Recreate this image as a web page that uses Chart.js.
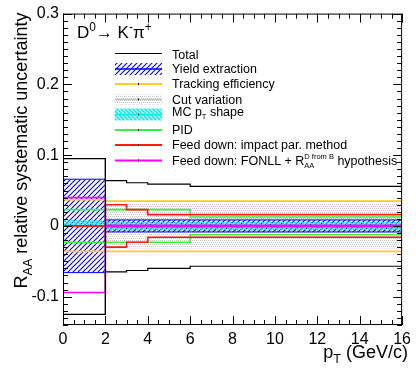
<!DOCTYPE html>
<html><head><meta charset="utf-8">
<script src="https://cdn.jsdelivr.net/npm/chart.js@4/dist/chart.umd.min.js"></script>
<style>html,body{margin:0;padding:0;background:#fff}#wrap{width:416px;height:372px}</style>
</head><body><div id="wrap"><canvas id="c" width="416" height="372"></canvas></div>
<script>
// ---- data ----
const binEdges   = [0, 2, 3, 4, 6, 16];
const totalUp    = [0.095, 0.064, 0.061, 0.059, 0.056];
const totalLow   = [-0.125, -0.065, -0.063, -0.060, -0.057];
const yieldUp    = [0.066, 0.0085, 0.0085, 0.0085, 0.0085];
const yieldLow   = [-0.066, -0.0085, -0.0085, -0.0085, -0.0085];
const trackUp    = [0.037, 0.035, 0.035, 0.035, 0.035];
const trackLow   = [-0.036, -0.036, -0.036, -0.036, -0.036];
const cutUp      = [null, 0.032, 0.032, 0.032, 0.032];
const cutLow     = [null, -0.032, -0.032, -0.032, -0.032];
const mcUp       = [0.008, 0.006, 0.006, 0.006, 0.006];
const mcLow      = [0.0, -0.006, -0.006, -0.006, -0.006];
const pidUp      = [0.023, 0.023, 0.023, 0.023, 0.0125];
const pidLow     = [-0.023, -0.023, -0.023, -0.023, -0.0125];
const fdUp       = [0.0, 0.030, 0.023, 0.016, 0.016];
const fdLow      = [0.0, -0.030, -0.023, -0.016, -0.016];
const fonllUp    = [0.040, 0.001, 0.001, 0.001, 0.001];
const fonllLow   = [-0.094, -0.001, -0.001, -0.001, -0.001];
const xTickValues = [0, 2, 4, 6, 8, 10, 12, 14, 16];
const xTickLabels = ['0', '2', '4', '6', '8', '10', '12', '14', '16'];
const yTickValues = [-0.1, 0, 0.1, 0.2, 0.3];
const yTickLabels = ['-0.1', '0', '0.1', '0.2', '0.3'];
const legendLabels = [
  [{t: 'Total'}],
  [{t: 'Yield extraction'}],
  [{t: 'Tracking efficiency'}],
  [{t: 'Cut variation'}],
  [{t: 'MC p'}, {sub: 'T'}, {t: ' shape'}],
  [{t: 'PID'}],
  [{t: 'Feed down: impact par. method'}],
  [{t: 'Feed down: FONLL + R'}, {sup: 'D from B', sub: 'AA'}, {t: ' hypothesis'}]
];
const titleParts = [{t: 'D'}, {sup: '0'}, {t: '\u2192 K'}, {sup: '-'}, {t: '\u03c0'}, {sup: '+'}];
const xTitleParts = [{t: 'p'}, {sub: 'T'}, {t: ' (GeV/c)'}];
const yTitleParts = [{t: 'R'}, {sub: 'AA'}, {t: ' relative systematic uncertainty'}];

// ---- styling ----
const FONT = "'Liberation Sans', Arial, sans-serif";
const C = {
  black: '#000000', blue: '#0000ff', yellow: '#ffcc22', gray: '#b4b4b4',
  cyan: '#00f0f0', green: '#3ef03e', red: '#ff1a1a', magenta: '#ff00ff'
};

function hatch(color, dir, size, lw) {
  const c = document.createElement('canvas'); c.width = size; c.height = size;
  const g = c.getContext('2d');
  g.strokeStyle = color; g.lineWidth = lw; g.beginPath();
  if (dir > 0) {
    g.moveTo(-1, size + 1); g.lineTo(size + 1, -1);
    g.moveTo(-1, 1); g.lineTo(1, -1);
    g.moveTo(size - 1, size + 1); g.lineTo(size + 1, size - 1);
  } else {
    g.moveTo(-1, -1); g.lineTo(size + 1, size + 1);
    g.moveTo(size - 1, -1); g.lineTo(size + 1, 1);
    g.moveTo(-1, size - 1); g.lineTo(1, size + 1);
  }
  g.stroke();
  return g.createPattern(c, 'repeat');
}
function dots(color) {
  const c = document.createElement('canvas'); c.width = 4; c.height = 4;
  const g = c.getContext('2d'); g.fillStyle = color;
  g.fillRect(0, 0, 1, 1); g.fillRect(2, 0, 1, 1); g.fillRect(1, 2, 1, 1); g.fillRect(3, 2, 1, 1);
  return g.createPattern(c, 'repeat');
}
const blueHatch = hatch(C.blue, 1, 5, 1.1);
const cyanHatch = hatch(C.cyan, -1, 4, 1.6);
const grayDots = dots('#c4c4c4');

function stepPoints(values) {
  const pts = [];
  for (let i = 0; i < values.length; i++) {
    if (values[i] === null) continue;
    pts.push({x: binEdges[i], y: values[i]});
  }
  pts.push({x: binEdges[values.length], y: values[values.length - 1]});
  return pts;
}
function band(name, up, low, color, lw, pattern, order) {
  const base = {borderColor: color, borderWidth: lw, stepped: true, pointRadius: 0,
    tension: 0, borderCapStyle: 'butt', borderJoinStyle: 'miter', order: order};
  return [
    Object.assign({label: name + ' low', data: stepPoints(low), fill: false}, base),
    Object.assign({label: name + ' up', data: stepPoints(up),
      fill: pattern ? '-1' : false, backgroundColor: pattern || 'transparent'}, base)
  ];
}
const datasets = [].concat(
  band('Cut variation', cutUp, cutLow, 'rgba(0,0,0,0)', 0, grayDots, 10),
  band('Yield extraction', yieldUp, yieldLow, C.blue, 1, blueHatch, 8),
  band('MC pT shape', mcUp, mcLow, 'rgba(0,0,0,0)', 0, cyanHatch, 7),
  band('Tracking efficiency', trackUp, trackLow, C.yellow, 1.6, null, 5),
  band('PID', pidUp, pidLow, C.green, 1.6, null, 4),
  band('Feed down imp', fdUp, fdLow, C.red, 1.6, null, 3),
  band('Feed down FONLL', fonllUp, fonllLow, C.magenta, 1.6, null, 2),
  band('Total', totalUp, totalLow, C.black, 1.2, null, 1),
  [{label: 'Total edge', data: [{x: binEdges[1], y: totalUp[0]}, {x: binEdges[1], y: totalLow[0]}],
    borderColor: C.black, borderWidth: 1.2, pointRadius: 0, fill: false, order: 1}]
);

// ---- rich text helper ----
function richWidth(ctx, parts, size, sc) {
  let w = 0;
  for (const p of parts) {
    if (p.t !== undefined) { ctx.font = size + 'px ' + FONT; w += ctx.measureText(p.t).width; }
    else {
      ctx.font = (size * sc).toFixed(1) + 'px ' + FONT;
      w += Math.max(p.sup ? ctx.measureText(p.sup).width : 0, p.sub ? ctx.measureText(p.sub).width : 0);
    }
  }
  return w;
}
function drawRich(ctx, parts, x, y, size, align, sc) {
  sc = sc || 0.7;
  let cx = align === 'right' ? x - richWidth(ctx, parts, size, sc) : x;
  ctx.textAlign = 'left'; ctx.textBaseline = 'alphabetic'; ctx.fillStyle = '#000';
  for (const p of parts) {
    if (p.t !== undefined) {
      ctx.font = size + 'px ' + FONT; ctx.fillText(p.t, cx, y); cx += ctx.measureText(p.t).width;
    } else {
      ctx.font = (size * sc).toFixed(1) + 'px ' + FONT;
      let w = 0;
      if (p.sup) { ctx.fillText(p.sup, cx, y - size * 0.42); w = Math.max(w, ctx.measureText(p.sup).width); }
      if (p.sub) { ctx.fillText(p.sub, cx, y + size * 0.3); w = Math.max(w, ctx.measureText(p.sub).width); }
      cx += w;
    }
  }
}

// ---- decoration plugin: frame, inward ticks, title, legend, axis titles ----
const decor = {
  id: 'decor',
  afterDatasetsDraw(chart) {
    const {ctx, chartArea: a, scales: {x, y}} = chart;
    ctx.save();
    ctx.strokeStyle = '#000'; ctx.lineWidth = 1;
    ctx.strokeRect(a.left + 0.5, a.top + 0.5, a.right - a.left - 1, a.bottom - a.top - 1);
    ctx.beginPath();
    for (let k = Math.ceil(x.min / 0.5 - 1e-9); k <= Math.floor(x.max / 0.5 + 1e-9); k++) {
      const v = k * 0.5;
      const major = xTickValues.some(t => Math.abs(t - v) < 1e-6);
      const len = major ? 9 : 5;
      const px = Math.round(x.getPixelForValue(v)) + 0.5;
      ctx.moveTo(px, a.bottom); ctx.lineTo(px, a.bottom - len);
      ctx.moveTo(px, a.top); ctx.lineTo(px, a.top + len);
    }
    for (let k = Math.ceil(y.min / 0.01 - 1e-9); k <= Math.floor(y.max / 0.01 + 1e-9); k++) {
      const v = k * 0.01;
      const major = yTickValues.some(t => Math.abs(t - v) < 1e-6);
      const len = major ? 9 : 5;
      const py = Math.round(y.getPixelForValue(v)) + 0.5;
      ctx.moveTo(a.left, py); ctx.lineTo(a.left + len, py);
      ctx.moveTo(a.right, py); ctx.lineTo(a.right - len, py);
    }
    ctx.stroke();
    ctx.restore();
  },
  afterDraw(chart) {
    const {ctx, chartArea: a} = chart;
    ctx.save();
    // title
    drawRich(ctx, titleParts, 77, 38, 17, 'left');
    // legend
    const lx0 = 115, lx1 = 162, tx = 172;
    const sy = [53.5, 69, 84, 99.5, 114.5, 130, 145, 160.5];
    const ty = [58.5, 73, 88, 104, 115.5, 134, 149, 164.5];
    const styles = [
      {line: C.black, lw: 1.2},
      {line: C.blue, lw: 1.5, fill: blueHatch, h: 12},
      {line: C.yellow, lw: 2, tick: true},
      {line: '#c4c4c4', lw: 1.5, fill: grayDots, h: 10, tick: true},
      {line: C.cyan, lw: 1.5, fill: cyanHatch, h: 12, tick: true},
      {line: C.green, lw: 2, tick: true},
      {line: C.red, lw: 2, tick: true},
      {line: C.magenta, lw: 2, tick: true}
    ];
    styles.forEach((s, i) => {
      const yy = sy[i];
      if (s.fill) { ctx.fillStyle = s.fill; ctx.fillRect(lx0, yy - s.h / 2, lx1 - lx0, s.h); }
      ctx.strokeStyle = s.line; ctx.lineWidth = s.lw;
      ctx.beginPath(); ctx.moveTo(lx0, yy); ctx.lineTo(lx1, yy); ctx.stroke();
      if (s.tick) {
        ctx.strokeStyle = '#000'; ctx.lineWidth = 1;
        ctx.beginPath(); ctx.moveTo(138.5, yy - 1); ctx.lineTo(138.5, yy + 1); ctx.stroke();
      }
      drawRich(ctx, legendLabels[i], tx, ty[i], 12.5, 'left', 0.6);
    });
    // x title
    drawRich(ctx, xTitleParts, 408, 358, 18, 'right');
    // y title
    ctx.translate(27, a.top - 1);
    ctx.rotate(-Math.PI / 2);
    drawRich(ctx, yTitleParts, 0, 0, 18, 'right');
    ctx.restore();
  }
};

new Chart(document.getElementById('c'), {
  type: 'line',
  data: {datasets: datasets},
  options: {
    responsive: false, animation: false, events: [],
    layout: {padding: {top: 9, right: 9, left: 0, bottom: 0}},
    plugins: {legend: {display: false}, tooltip: {enabled: false}},
    scales: {
      x: {
        type: 'linear', min: 0, max: 16,
        afterBuildTicks: s => { s.ticks = xTickValues.map(v => ({value: v})); },
        afterFit: s => { s.height = 47; },
        ticks: {autoSkip: false, maxRotation: 0, padding: 5, color: '#000',
          font: {family: FONT, size: 16},
          callback: (v) => xTickLabels[xTickValues.indexOf(v)]},
        grid: {display: false, drawTicks: false}, border: {display: false}
      },
      y: {
        type: 'linear', min: -0.14, max: 0.3,
        afterBuildTicks: s => { s.ticks = yTickValues.map(v => ({value: v})); },
        afterFit: s => { s.width = 63; },
        ticks: {autoSkip: false, padding: 4, color: '#000',
          font: {family: FONT, size: 16},
          callback: (v) => { const i = yTickValues.findIndex(t => Math.abs(t - v) < 1e-9); return i >= 0 ? yTickLabels[i] : ''; }},
        grid: {display: false, drawTicks: false}, border: {display: false}
      }
    }
  },
  plugins: [decor]
});
</script>
</body></html>
